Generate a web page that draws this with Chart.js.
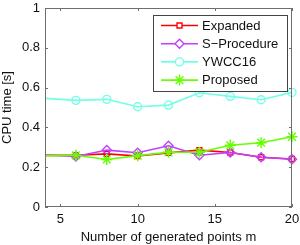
<!DOCTYPE html>
<html>
<head>
<meta charset="utf-8">
<script src="https://cdn.jsdelivr.net/npm/chart.js@4"></script>
<style>
  html, body { margin: 0; padding: 0; background: #fff; }
  #wrap { width: 300px; height: 245px; }
</style>
</head>
<body>
<div id="wrap"><canvas id="cpuChart" width="300" height="245"></canvas></div>

<script>
  // data
  var pointsM = [4, 6, 8, 10, 12, 14, 16, 18, 20];
  var expanded = [0.26, 0.26, 0.267, 0.256, 0.272, 0.286, 0.274, 0.25, 0.241];
  var sProcedure = [0.26, 0.254, 0.286, 0.273, 0.308, 0.26, 0.274, 0.25, 0.24];
  var ywcc16 = [0.546, 0.536, 0.541, 0.504, 0.512, 0.574, 0.556, 0.539, 0.576];
  var proposed = [0.257, 0.26, 0.239, 0.258, 0.275, 0.275, 0.31, 0.323, 0.353];
  var seriesNames = ['Expanded', 'S\u2212Procedure', 'YWCC16', 'Proposed'];
  var xTicks = [5, 10, 15, 20];
  var yTicks = [0, 0.2, 0.4, 0.6, 0.8, 1];

  var FONT = 'Arial, "Liberation Sans", sans-serif';
  var AXIS = '#6e6e6e';

  function toXY(vals) {
    return vals.map(function (v, i) { return { x: pointsM[i], y: v }; });
  }
  // first sample sits on the left edge with no marker
  function radii(r) {
    return pointsM.map(function (m, i) { return i === 0 ? 0 : r; });
  }

  var styles = [
    { color: '#ff0000', point: 'rect', r: 3.5 },
    { color: '#bf40ff', point: 'rectRot', r: 4.5 },
    { color: '#73ffe6', point: 'circle', r: 4 },
    { color: '#66ff00', point: 'star', r: 5.5 }
  ];
  var series = [expanded, sProcedure, ywcc16, proposed];

  var datasets = series.map(function (vals, k) {
    var s = styles[k];
    return {
      label: seriesNames[k],
      data: toXY(vals),
      borderColor: s.color,
      backgroundColor: 'rgba(0,0,0,0)',
      borderWidth: 1.6,
      pointStyle: s.point,
      pointRadius: radii(s.r),
      pointBorderColor: s.color,
      pointBackgroundColor: 'rgba(0,0,0,0)',
      pointBorderWidth: 1.4,
      tension: 0,
      clip: false,
      order: 4 - k
    };
  });

  // box around the plot, inward ticks, and the legend
  var matlabBox = {
    id: 'matlabBox',
    afterDatasetsDraw: function (chart) {
      var c = chart.ctx, a = chart.chartArea;
      var xs = chart.scales.x, ys = chart.scales.y;
      c.save();
      c.strokeStyle = AXIS;
      c.lineWidth = 1;
      c.strokeRect(a.left + 0.5, a.top + 0.5, a.right - a.left - 1, a.bottom - a.top - 1);
      c.beginPath();
      xTicks.forEach(function (t) {
        var px = Math.round(xs.getPixelForValue(t)) + 0.5;
        c.moveTo(px, a.bottom); c.lineTo(px, a.bottom - 3);
        c.moveTo(px, a.top); c.lineTo(px, a.top + 3);
      });
      yTicks.forEach(function (t) {
        var py = Math.round(ys.getPixelForValue(t)) + 0.5;
        c.moveTo(a.left, py); c.lineTo(a.left + 3, py);
        c.moveTo(a.right, py); c.lineTo(a.right - 3, py);
      });
      c.stroke();

      // legend
      var bx = 153, by = 15, bw = 134, bh = 76;
      c.fillStyle = '#fff';
      c.fillRect(bx, by, bw, bh);
      c.strokeStyle = '#444';
      c.strokeRect(bx + 0.5, by + 0.5, bw, bh);
      c.font = '13px ' + FONT;
      c.textBaseline = 'middle';
      c.textAlign = 'left';
      datasets.forEach(function (ds, k) {
        var y = 25.5 + k * 18.2;
        c.strokeStyle = ds.borderColor;
        c.lineWidth = 1.6;
        c.beginPath();
        c.moveTo(161, y); c.lineTo(198, y);
        c.stroke();
        c.lineWidth = 1.4;
        c.fillStyle = '#fff';
        Chart.helpers.drawPoint(c, {
          pointStyle: styles[k].point,
          radius: styles[k].r,
          borderWidth: 1.4
        }, 179.5, y);
        c.fillStyle = '#111';
        c.fillText(ds.label, 202, y + 0.5);
      });
      c.restore();
    }
  };

  var ctxCpu = document.getElementById('cpuChart').getContext('2d');
  var cpuChart = new Chart(ctxCpu, {
    type: 'line',
    data: { datasets: datasets },
    plugins: [matlabBox],
    options: {
      responsive: false,
      animation: false,
      events: [],
      layout: { padding: { top: 8, right: 8, left: 0, bottom: 0 } },
      plugins: {
        legend: { display: false },
        tooltip: { enabled: false }
      },
      scales: {
        x: {
          type: 'linear',
          min: 4,
          max: 20,
          afterBuildTicks: function (s) { s.ticks = xTicks.map(function (v) { return { value: v }; }); },
          afterFit: function (s) { s.height = 38; s.paddingLeft = 0; s.paddingRight = 0; },
          grid: { display: false, drawTicks: false },
          border: { display: false },
          ticks: {
            color: '#111', padding: 5, maxRotation: 0,
            font: { family: FONT, size: 13 },
            callback: function (v) { return String(v); }
          },
          title: {
            display: true,
            text: 'Number of generated points m',
            color: '#111',
            padding: { top: 1, bottom: 0 },
            font: { family: FONT, size: 13 }
          }
        },
        y: {
          min: 0,
          max: 1,
          afterBuildTicks: function (s) { s.ticks = yTicks.map(function (v) { return { value: v }; }); },
          afterFit: function (s) { s.width = 45; s.paddingTop = 0; s.paddingBottom = 0; },
          grid: { display: false, drawTicks: false },
          border: { display: false },
          ticks: {
            color: '#111', padding: 5,
            font: { family: FONT, size: 13 },
            callback: function (v) { return String(v); }
          },
          title: {
            display: true,
            text: 'CPU time [s]',
            color: '#111',
            padding: { top: 0, bottom: 2 },
            font: { family: FONT, size: 13 }
          }
        }
      }
    }
  });
</script>
</body>
</html>
